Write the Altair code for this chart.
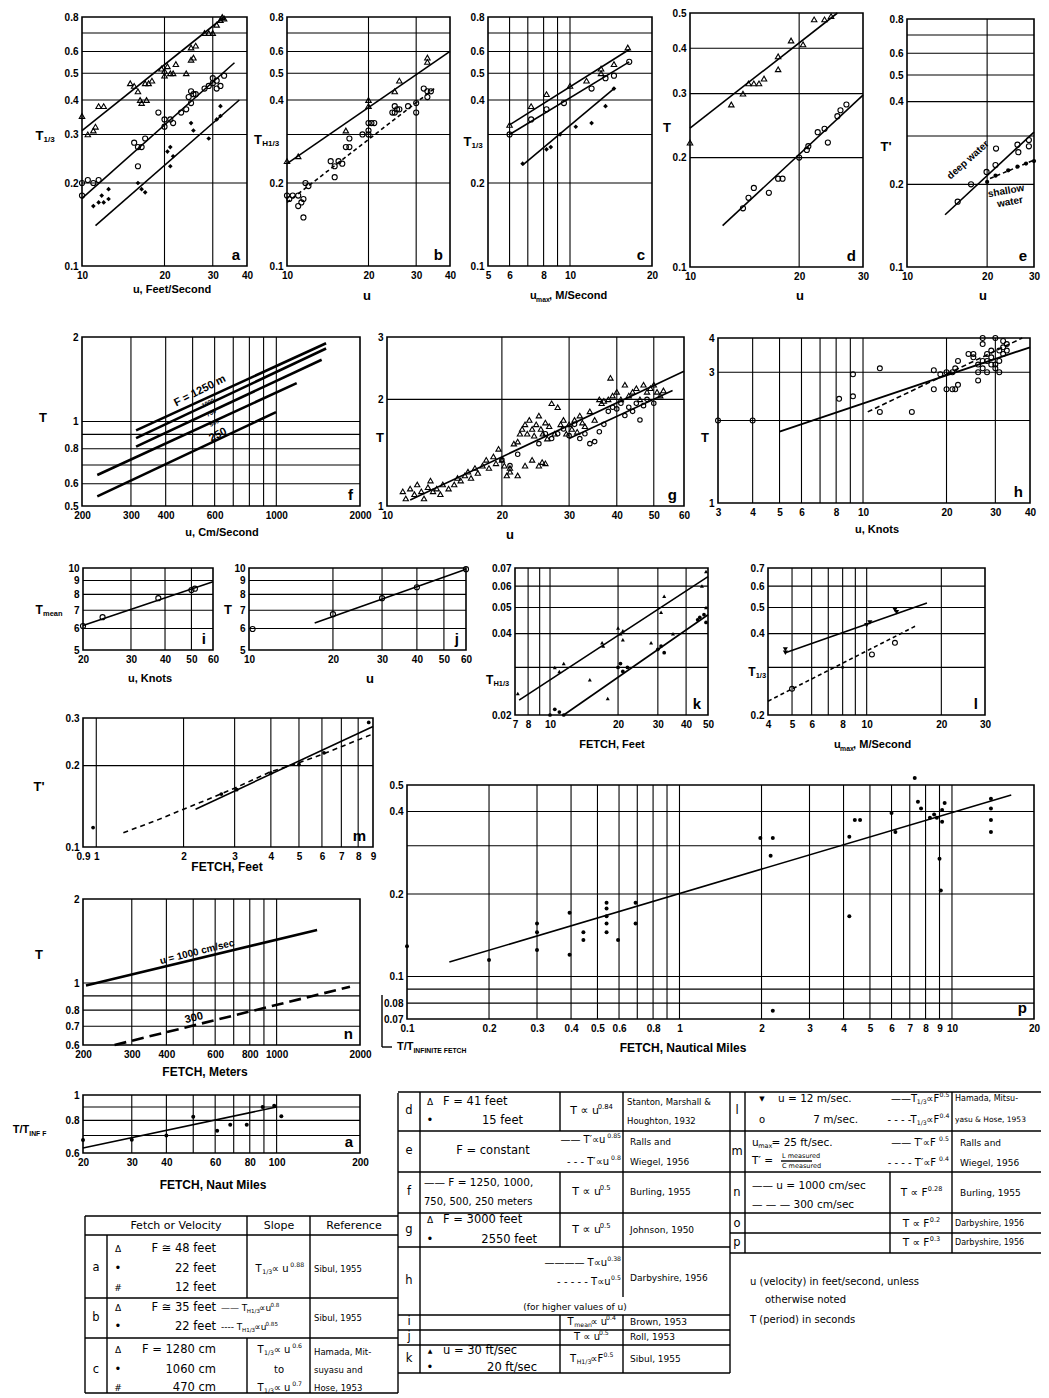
import altair as alt
import pandas as pd

# ------------------------------------------------------------------ data (u, T) pairs
A_TRI = [(10,0.35),(10.5,0.30),(11,0.31),(11.2,0.32),(11.5,0.38),(12,0.38),(15,0.46),(15.5,0.45),(16,0.43),(16.3,0.40),
         (16.5,0.39),(17,0.46),(17.5,0.46),(17.2,0.40),(18,0.47),(19.5,0.52),(20,0.51),(20,0.49),(20.5,0.53),(21,0.50),
         (21.5,0.50),(22,0.54),(24,0.50),(25,0.56),(25.5,0.57),(25,0.62),(26,0.63),(28,0.70),(29,0.70),(30,0.70),
         (31,0.75),(32,0.78),(32.5,0.80),(33,0.79)]
A_CIR = [(10,0.20),(10.5,0.205),(11,0.20),(11.5,0.205),(10,0.18),(15.5,0.28),(16,0.27),(16.5,0.27),(17,0.29),(16,0.23),
         (19,0.36),(20,0.34),(20,0.32),(21,0.34),(21.5,0.33),(23,0.36),(24,0.37),(24.5,0.41),(25,0.43),(25.5,0.42),
         (25,0.39),(26,0.42),(28,0.44),(29,0.45),(30,0.48),(31,0.47),(32,0.45),(33,0.49),(30,0.46),(31,0.44)]
A_HASH = [(11,0.165),(11.5,0.17),(12,0.17),(12.5,0.175),(11.8,0.18),(12.5,0.19),(16,0.20),(16.5,0.19),(17,0.185),
          (20.5,0.26),(21,0.27),(21.5,0.25),(21,0.23),(25,0.33),(25.5,0.31),(29,0.29),(31,0.34),(32,0.35),(32,0.38)]
A_FIT_TRI = [(10,0.31),(33,0.80)]
A_FIT_CIR = [(10,0.176),(36,0.546)]
A_FIT_HASH = [(11.2,0.14),(37.5,0.40)]

B_TRI = [(10,0.24),(11,0.25),(16.5,0.31),(20,0.40),(20,0.38),(25,0.43),(26,0.47),(33,0.55),(33,0.57)]
B_CIR = [(10,0.18),(10.2,0.175),(10.5,0.18),(11,0.18),(11.3,0.17),(11.5,0.175),(11,0.165),(11.7,0.20),(12,0.195),
         (11.5,0.15),(14.5,0.24),(15,0.23),(15.5,0.24),(16,0.235),(15,0.21),(16.5,0.27),(17,0.27),(17,0.29),(19,0.30),
         (20,0.31),(20,0.30),(20,0.33),(20.5,0.33),(21,0.33),(24.5,0.36),(25,0.38),(25,0.36),(25.5,0.37),(26,0.37),
         (28,0.38),(30,0.39),(30,0.36),(32,0.44),(33,0.43),(33,0.41),(34,0.43)]
B_FIT_SOLID = [(10,0.235),(40,0.60)]
B_FIT_DASH = [(10,0.17),(35,0.44)]

C_TRI = [(6,0.325),(7.2,0.38),(8.2,0.42),(10,0.45),(11.5,0.47),(13,0.50),(13,0.52),(14.5,0.54),(16.3,0.62)]
C_CIR = [(6,0.30),(7.2,0.34),(8.2,0.37),(9.5,0.39),(12,0.44),(13.5,0.48),(14.5,0.49),(16.5,0.55)]
C_HASH = [(6.7,0.235),(8.2,0.265),(8.5,0.27),(9.2,0.30),(10.5,0.32),(12,0.33),(13.5,0.38),(14.5,0.44)]
C_FIT_TRI = [(6,0.325),(16.5,0.61)]
C_FIT_CIR = [(6,0.30),(16.5,0.55)]
C_FIT_HASH = [(6.7,0.232),(14.5,0.44)]

D_TRI = [(10,0.22),(13,0.28),(14,0.30),(14.5,0.32),(15,0.32),(15.5,0.32),(16,0.33),(17.5,0.38),(17.5,0.35),(19,0.42),
         (20.5,0.41),(22,0.48),(23.5,0.48),(24.5,0.49)]
D_CIR = [(14,0.145),(14.5,0.155),(15,0.165),(16.5,0.16),(17.5,0.175),(18,0.175),(20,0.20),(21,0.21),(21.2,0.215),
         (22.5,0.235),(23.5,0.24),(24,0.22),(25.5,0.26),(26,0.27),(27,0.28)]
D_FIT_TRI = [(10,0.241),(25.5,0.50)]
D_FIT_CIR = [(12.3,0.13),(30,0.297)]

E_OPEN = [(15.5,0.173),(17.4,0.20),(19.9,0.222),(21.5,0.235),(21.6,0.27),(26,0.279),(26.2,0.262),(28.7,0.29),(28.7,0.275)]
E_FILLED = [(20,0.204),(21.5,0.215),(24,0.225),(26,0.232),(28,0.238),(30,0.243)]
E_FIT_DEEP = [(13.9,0.155),(30,0.31)]
E_FIT_SHALLOW = [(20.5,0.21),(30,0.245)]

F_1250 = [(313,0.93),(1510,1.90)]
F_1000 = [(313,0.872),(1510,1.82)]
F_750 = [(313,0.814),(1456,1.66)]
F_500 = [(227,0.645),(1184,1.37)]
F_250 = [(227,0.541),(998,1.08)]

G_TRI = [(11,1.10),(11.2,1.05),(11.5,1.12),(11.8,1.08),(12,1.15),(12.3,1.10),(12.5,1.05),(12.8,1.13),(13,1.18),(13.2,1.10),
         (13.5,1.12),(13.8,1.08),(14,1.15),(14.5,1.12),(15,1.15),(15.3,1.20),(15.6,1.18),(16,1.22),(16.3,1.25),(16.6,1.20),
         (17,1.28),(17.3,1.24),(17.8,1.30),(18.2,1.35),(18.5,1.28),(19,1.38),(19.3,1.32),(19.6,1.45),(20,1.35),(20.3,1.30),
         (20.6,1.22),(21,1.28),(21.5,1.50),(22,1.52),(22.3,1.60),(22.6,1.65),(23,1.70),(23.3,1.60),(23.6,1.75),(24,1.65),
         (24.3,1.58),(24.6,1.70),(25,1.80),(25.3,1.65),(25.6,1.60),(26,1.72),(26.3,1.55),(26.6,1.68),(27,1.95),(27.5,1.60),
         (28,1.90),(28.5,1.70),(29,1.75),(29.5,1.60),(30,1.70),(30.5,1.65),(31,1.75),(31.5,1.62),(32,1.80),(32.5,1.72),
         (33,1.68),(34,1.85),(35,1.75),(36,2.00),(36.5,1.95),(37,1.98),(38,2.00),(38.5,2.30),(39,2.05),(40,2.10),
         (41,2.00),(42,2.20),(43,2.05),(44,2.10),(45,2.15),(46,2.00),(47,2.20),(48,2.10),(49,2.15),(50,2.20),
         (51,2.10),(52,2.05),(53,2.12),(25,1.30),(25.5,1.33),(24,1.35),(26,1.32),(21,1.25),(22,1.22),(23,1.30)]
G_CIR = [(20,1.35),(21,1.30),(22,1.40),(25,1.50),(27,1.55),(28,1.60),(30,1.58),(32,1.55),(33,1.60),(34,1.50),(35,1.52),
         (36,1.62),(37,1.70),(38,1.85),(39,1.90),(40,1.88),(41,1.95),(42,1.80),(43,1.90),(44,1.85),(45,1.95),(46,1.75),
         (47,1.92),(48,2.00),(50,1.95),(26,1.60),(29,1.65),(31,1.70)]
G_FIT_A = [(11.5,1.04),(60,2.40)]
G_FIT_B = [(30,1.55),(56,2.12)]

H_PTS = [(3,2.0),(4,2.0),(8.2,2.4),(9.2,2.45),(9.2,2.95),(11.5,3.1),(11.5,2.15),(15,2.15),(18,3.05),(18,2.6),(19,2.95),
         (20,2.6),(20,3.0),(21,3.0),(21,2.6),(21.5,2.6),(22,2.7),(21.5,3.1),(22,3.3),(24,3.5),(25,3.5),(25,3.4),(26,3.2),
         (26,2.8),(27,4.0),(27,3.8),(27,3.1),(28,3.3),(28,3.5),(28,3.0),(29,3.4),(29,3.6),(30,4.0),(30,3.1),(31,3.3),
         (31,3.6),(32,3.9),(32,3.7),(32,3.5),(33,3.6),(33,3.8),(30,3.2),(31,3.0),(29,3.2),(26,3.0),(27,3.3)]
H_FIT_SOLID = [(5,1.82),(40,3.70)]
H_FIT_DASH = [(10.4,2.15),(37.5,4.0)]

I_PTS = [(20,6.12),(23.6,6.6),(37.8,7.75),(50,8.3),(51.5,8.4)]
I_FIT = [(20,6.15),(60,8.9)]
J_PTS = [(10.3,5.97),(20,6.77),(30,7.75),(40,8.5),(60,9.9)]
J_FIT = [(17.2,6.28),(60,9.9)]

K_TRI = [(7.2,0.024),(10.5,0.030),(11,0.029),(11.5,0.031),(15,0.027),(17,0.037),(17.2,0.036),(18,0.023),(20,0.042),
         (20.5,0.040),(21,0.041),(21,0.038),(28,0.037),(31,0.048),(32,0.055),(35,0.040),(47,0.060),(49,0.068),(49,0.050)]
K_CIR = [(10,0.020),(10.5,0.021),(11,0.0205),(11.5,0.020),(20,0.030),(20.5,0.031),(21,0.029),(22,0.030),(30,0.035),
         (31,0.036),(32,0.034),(45,0.045),(46,0.046),(48,0.047),(49,0.044)]
K_FIT_TRI = [(7.3,0.0227),(50,0.065)]
K_FIT_CIR = [(11.5,0.020),(50,0.047)]

L_TRI = [(4.7,0.35),(4.7,0.34),(10,0.43),(10.3,0.44),(13,0.49),(13.2,0.48)]
L_CIR = [(5,0.25),(10.5,0.335),(13,0.37)]
L_DOT = [(8,0.30)]
L_FIT_SOLID = [(4.7,0.34),(17.5,0.52)]
L_FIT_DASH = [(4,0.225),(16,0.43)]

M_PTS = [(0.975,0.118),(2.7,0.157),(3.05,0.163),(4.0,0.188),(5.0,0.202),(6.1,0.223),(8.7,0.289)]
M_FIT_SOLID = [(2.2,0.138),(9,0.279)]
M_FIT_DASH = [(1.24,0.113),(1.6,0.125),(2.0,0.138),(2.5,0.152),(3.0,0.165),(4.0,0.19),(5.0,0.205),(6.0,0.22),(7.0,0.235),(9.0,0.262)]

N_FIT_1000 = [(205,0.98),(1400,1.55)]
N_FIT_300 = [(260,0.60),(1840,0.97)]

P_PTS = [(0.1,0.129),(0.2,0.115),(0.3,0.156),(0.3,0.145),(0.3,0.125),(0.395,0.171),(0.395,0.12),(0.444,0.145),(0.444,0.136),
         (0.54,0.186),(0.54,0.177),(0.54,0.166),(0.54,0.156),(0.54,0.145),(0.595,0.136),(0.69,0.186),(0.69,0.156),
         (1.98,0.32),(2.16,0.276),(2.2,0.32),(2.2,0.075),(4.2,0.324),(4.2,0.166),(4.4,0.373),(4.6,0.373),(6.0,0.395),
         (6.2,0.337),(7.3,0.53),(7.5,0.434),(7.7,0.41),(8.3,0.38),(8.6,0.39),(8.8,0.38),(9.0,0.269),(9.1,0.206),
         (9.2,0.405),(9.2,0.367),(9.4,0.43),(13.9,0.445),(13.9,0.41),(13.9,0.373),(13.9,0.337)]
P_FIT = [(0.143,0.113),(16.5,0.46)]

Q_PTS = [(20,0.673),(30,0.675),(40,0.70),(50,0.826),(61,0.73),(68,0.77),(78,0.77),(89,0.90),(98,0.91),(104,0.83)]
Q_FIT = [(20,0.627),(100,0.90)]

# ------------------------------------------------------------------ layout (page pixels)
W, H, M = 1033, 1390, 8
LF = "Liberation Sans"
TF = "DejaVu Sans"

PANELS = {
    'a': dict(x=(10, 40), xp=(82, 247), y=(0.1, 0.8), yp=(266, 17), xt=[10, 20, 30, 40],
              yt=[0.1, 0.2, 0.3, 0.4, 0.5, 0.6, 0.8], xg=[20, 30], yg=[0.2, 0.3, 0.4, 0.5, 0.6, 0.7], letter='a'),
    'b': dict(x=(10, 40), xp=(287, 450), y=(0.1, 0.8), yp=(266, 17), xt=[10, 20, 30, 40],
              yt=[0.1, 0.2, 0.4, 0.5, 0.6, 0.8], xg=[20, 30], yg=[0.2, 0.3, 0.4, 0.5, 0.6, 0.7], letter='b'),
    'c': dict(x=(5, 20), xp=(488, 652), y=(0.1, 0.8), yp=(266, 17), xt=[5, 6, 8, 10, 20],
              yt=[0.1, 0.2, 0.4, 0.5, 0.6, 0.8], xg=[6, 7, 8, 9, 10], yg=[0.2, 0.3, 0.4, 0.5, 0.6, 0.7], letter='c'),
    'd': dict(x=(10, 30), xp=(690, 863), y=(0.1, 0.5), yp=(267, 13), xt=[10, 20, 30],
              yt=[0.1, 0.2, 0.3, 0.4, 0.5], xg=[20], yg=[0.2, 0.3, 0.4], letter='d'),
    'e': dict(x=(10, 30), xp=(907, 1034), y=(0.1, 0.8), yp=(267, 19), xt=[10, 20, 30],
              yt=[0.1, 0.2, 0.4, 0.5, 0.6, 0.8], xg=[20], yg=[0.2, 0.3, 0.4, 0.5, 0.6, 0.7], letter='e'),
    'f': dict(x=(200, 2000), xp=(82, 360), y=(0.5, 2), yp=(506, 337), xt=[200, 300, 400, 600, 1000, 2000],
              yt=[0.5, 0.6, 0.8, 1, 2], xg=[300, 400, 500, 600, 700, 800, 900, 1000], yg=[0.6, 0.7, 0.8, 0.9, 1], letter='f'),
    'g': dict(x=(10, 60), xp=(387, 684), y=(1, 3), yp=(506, 337), xt=[10, 20, 30, 40, 50, 60],
              yt=[1, 2, 3], xg=[20, 30, 40, 50], yg=[2], letter='g'),
    'h': dict(x=(3, 40), xp=(718, 1030), y=(1, 4), yp=(503, 338), xt=[3, 4, 5, 6, 8, 10, 20, 30, 40],
              yt=[1, 3, 4], xg=[4, 5, 6, 7, 8, 9, 10, 20, 30], yg=[2, 3], letter='h'),
    'i': dict(x=(20, 60), xp=(83, 213), y=(5, 10), yp=(650, 568), xt=[20, 30, 40, 50, 60],
              yt=[5, 6, 7, 8, 9, 10], xg=[30, 40, 50], yg=[6, 7, 8, 9], letter='i'),
    'j': dict(x=(10, 60), xp=(249, 466), y=(5, 10), yp=(650, 568), xt=[10, 20, 30, 40, 50, 60],
              yt=[5, 6, 7, 8, 9, 10], xg=[20, 30, 40, 50], yg=[6, 7, 8, 9], letter='j'),
    'k': dict(x=(7, 50), xp=(515, 708), y=(0.02, 0.07), yp=(715, 568), xt=[7, 8, 10, 20, 30, 40, 50],
              yt=[0.02, 0.04, 0.05, 0.06, 0.07], xg=[8, 9, 10, 20, 30, 40], yg=[0.03, 0.04, 0.05, 0.06], letter='k'),
    'l': dict(x=(4, 30), xp=(768, 985), y=(0.2, 0.7), yp=(715, 568), xt=[4, 5, 6, 8, 10, 20, 30],
              yt=[0.2, 0.4, 0.5, 0.6, 0.7], xg=[5, 6, 7, 8, 9, 10, 20], yg=[0.3, 0.4, 0.5, 0.6], letter='l'),
    'm': dict(x=(0.9, 9), xp=(83, 373), y=(0.1, 0.3), yp=(847, 718), xt=[0.9, 1, 2, 3, 4, 5, 6, 7, 8, 9],
              yt=[0.1, 0.2, 0.3], xg=[1, 2, 3, 4, 5, 6, 7, 8], yg=[0.2], letter='m'),
    'n': dict(x=(200, 2000), xp=(83, 360), y=(0.6, 2), yp=(1045, 899), xt=[200, 300, 400, 600, 800, 1000, 2000],
              yt=[0.6, 0.7, 0.8, 1, 2], xg=[300, 400, 500, 600, 700, 800, 900, 1000], yg=[0.7, 0.8, 0.9, 1], letter='n'),
    'p': dict(x=(0.1, 20), xp=(407, 1034), y=(0.07, 0.5), yp=(1019, 785),
              xt=[0.1, 0.2, 0.3, 0.4, 0.5, 0.6, 0.8, 1, 2, 3, 4, 5, 6, 7, 8, 9, 10, 20],
              yt=[0.07, 0.08, 0.1, 0.2, 0.4, 0.5],
              xg=[0.2, 0.3, 0.4, 0.5, 0.6, 0.7, 0.8, 0.9, 1, 2, 3, 4, 5, 6, 7, 8, 9, 10],
              yg=[0.08, 0.09, 0.1, 0.2, 0.3, 0.4], letter='p'),
    'q': dict(x=(20, 200), xp=(83, 360), y=(0.6, 1), yp=(1153, 1095), xt=[20, 30, 40, 60, 80, 100, 200],
              yt=[0.6, 0.8, 1], xg=[30, 40, 50, 60, 70, 80, 90, 100], yg=[0.7, 0.8, 0.9], letter='a'),
}


def px(v):
    return v - M


def scales(p):
    xs = alt.Scale(type='log', domain=list(p['x']), range=[px(p['xp'][0]), px(p['xp'][1])], nice=False)
    ys = alt.Scale(type='log', domain=list(p['y']), range=[px(p['yp'][0]), px(p['yp'][1])], nice=False)
    return xs, ys


LAYERS = []


def panel(key):
    p = PANELS[key]
    xs, ys = scales(p)
    x0, x1 = p['x']
    y0, y1 = p['y']
    if p['xg']:
        d = pd.DataFrame({'gx': p['xg'], 'y0': y0, 'y1': y1})
        LAYERS.append(alt.Chart(d).mark_rule(color='black', strokeWidth=1.1).encode(
            x=alt.X('gx:Q', scale=xs, axis=None), y=alt.Y('y0:Q', scale=ys, axis=None), y2='y1:Q'))
    if p['yg']:
        d = pd.DataFrame({'gy': p['yg'], 'x0': x0, 'x1': x1})
        LAYERS.append(alt.Chart(d).mark_rule(color='black', strokeWidth=1.1).encode(
            y=alt.Y('gy:Q', scale=ys, axis=None), x=alt.X('x0:Q', scale=xs, axis=None), x2='x1:Q'))
    common = dict(format='.4~g', grid=False, domain=False, ticks=False, title=None, labelFont=LF,
                  labelFontSize=10, labelFontWeight='bold', labelColor='black', labelOverlap=False,
                  labelBound=False, labelFlush=False)
    xaxis = alt.Axis(values=p['xt'], orient='bottom', offset=px(p['yp'][0]) - H, labelPadding=4, **common)
    yaxis = alt.Axis(values=p['yt'], orient='left', offset=-px(p['xp'][0]), labelPadding=4, **common)
    fd = pd.DataFrame({'x0': [x0], 'x1': [x1], 'y0': [y0], 'y1': [y1]})
    LAYERS.append(alt.Chart(fd).mark_rect(color='black', fillOpacity=0, stroke='black', strokeWidth=1.6).encode(
        x=alt.X('x0:Q', scale=xs, axis=xaxis), x2='x1:Q', y=alt.Y('y0:Q', scale=ys, axis=yaxis), y2='y1:Q'))
    ld = pd.DataFrame({'x': [x1], 'y': [y0], 't': [p['letter']]})
    LAYERS.append(alt.Chart(ld).mark_text(align='right', baseline='bottom', dx=-7, dy=-3, font=LF,
                                          fontSize=15, fontWeight='bold', color='black').encode(
        x=alt.X('x:Q', scale=xs, axis=None), y=alt.Y('y:Q', scale=ys, axis=None), text='t:N'))


def pts(key, data, shape, filled, size=26, sw=1.1):
    xs, ys = scales(PANELS[key])
    d = pd.DataFrame(data, columns=['u', 'T'])
    LAYERS.append(alt.Chart(d).mark_point(shape=shape, filled=filled, size=size, color='black',
                                          strokeWidth=sw, opacity=1).encode(
        x=alt.X('u:Q', scale=xs, axis=None), y=alt.Y('T:Q', scale=ys, axis=None)))


def fit(key, data, dash=None, sw=1.6):
    xs, ys = scales(PANELS[key])
    d = pd.DataFrame(data, columns=['u', 'T'])
    kw = dict(color='black', strokeWidth=sw)
    if dash:
        kw['strokeDash'] = dash
    LAYERS.append(alt.Chart(d).mark_line(**kw).encode(
        x=alt.X('u:Q', scale=xs, axis=None), y=alt.Y('T:Q', scale=ys, axis=None)))


for k in PANELS:
    panel(k)

pts('a', A_TRI, 'triangle-up', False, 30); pts('a', A_CIR, 'circle', False); pts('a', A_HASH, 'diamond', True, 22)
fit('a', A_FIT_TRI); fit('a', A_FIT_CIR); fit('a', A_FIT_HASH)
pts('b', B_TRI, 'triangle-up', False, 30); pts('b', B_CIR, 'circle', False)
fit('b', B_FIT_SOLID); fit('b', B_FIT_DASH, [4, 3])
pts('c', C_TRI, 'triangle-up', False, 30); pts('c', C_CIR, 'circle', False); pts('c', C_HASH, 'diamond', True, 22)
fit('c', C_FIT_TRI); fit('c', C_FIT_CIR); fit('c', C_FIT_HASH)
pts('d', D_TRI, 'triangle-up', False, 30); pts('d', D_CIR, 'circle', False)
fit('d', D_FIT_TRI); fit('d', D_FIT_CIR)
pts('e', E_OPEN, 'circle', False); pts('e', E_FILLED, 'circle', True, 18)
fit('e', E_FIT_DEEP); fit('e', E_FIT_SHALLOW, [4, 3])
for ln in (F_1250, F_1000, F_750, F_500, F_250):
    fit('f', ln, sw=2.6)
pts('g', G_TRI, 'triangle-up', False, 28); pts('g', G_CIR, 'circle', False, 20)
fit('g', G_FIT_A); fit('g', G_FIT_B)
pts('h', H_PTS, 'circle', False, 24)
fit('h', H_FIT_SOLID, sw=1.8); fit('h', H_FIT_DASH, [5, 3])
pts('i', I_PTS, 'circle', False, 26); fit('i', I_FIT)
pts('j', J_PTS, 'circle', False, 26); fit('j', J_FIT)
pts('k', K_TRI, 'triangle-up', True, 16); pts('k', K_CIR, 'circle', True, 14)
fit('k', K_FIT_TRI); fit('k', K_FIT_CIR)
pts('l', L_TRI, 'triangle-down', True, 26); pts('l', L_CIR, 'circle', False, 24); pts('l', L_DOT, 'circle', True, 8)
fit('l', L_FIT_SOLID); fit('l', L_FIT_DASH, [4, 3])
pts('m', M_PTS, 'circle', True, 14)
fit('m', M_FIT_SOLID); fit('m', M_FIT_DASH, [5, 4])
fit('n', N_FIT_1000, sw=2.6); fit('n', N_FIT_300, [12, 6], sw=2.6)
pts('p', P_PTS, 'circle', True, 16); fit('p', P_FIT)
pts('q', Q_PTS, 'circle', True, 16); fit('q', Q_FIT)

# ------------------------------------------------------------------ text annotations & tables (page pixels)
ANN = []


def cw(ch, font):
    if ch == ' ':
        w = 0.3
    elif ch in "il.,:;'|!()/′":
        w = 0.3
    elif ch.isdigit():
        w = 0.6
    elif ch in "mwMW":
        w = 0.88
    elif ch == "—":
        w = 0.95
    elif ch in "=≅":
        w = 0.8
    elif ch == "∝":
        w = 0.66
    elif ch == "-":
        w = 0.34
    elif ch.isupper():
        w = 0.64
    else:
        w = 0.56
    return w * (0.93 if font == LF else 1.0)


def rich(x, y, segs, size=10, align='left', weight='normal', font=TF, angle=0):
    if isinstance(segs, str):
        segs = [(segs, 'n')]
    if len(segs) == 1 and segs[0][1] == 'n':
        ANN.append(dict(x=x, y=y, text=segs[0][0], size=size, weight=weight, font=font, align=align, angle=angle))
        return
    sizes = [size if m == 'n' else size * 0.62 for t, m in segs]
    widths = [sum(cw(c, font) for c in t) * s for (t, m), s in zip(segs, sizes)]
    total = sum(widths)
    start = x if align == 'left' else (x - total / 2 if align == 'center' else x - total)
    for (t, m), s, w in zip(segs, sizes, widths):
        dy = 0 if m == 'n' else (0.32 * size if m == 'sub' else -0.38 * size)
        ANN.append(dict(x=start, y=y + dy, text=t, size=s, weight=weight, font=font, align='left', angle=angle))
        start += w + 0.3


B = 'bold'
T13 = [('T', 'n'), ('1/3', 'sub')]
TH13 = [('T', 'n'), ('H1/3', 'sub')]
# axis titles
rich(45, 136, T13, 13, 'center', B, LF); rich(172, 290, 'u, Feet/Second', 11, 'center', B, LF)
rich(266, 140, TH13, 13, 'center', B, LF); rich(367, 296, 'u', 13, 'center', B, LF)
rich(473, 142, T13, 13, 'center', B, LF); rich(566, 296, [('u', 'n'), ('max', 'sub'), (', M/Second', 'n')], 11, 'center', B, LF)
rich(667, 128, 'T', 13, 'center', B, LF); rich(800, 296, 'u', 13, 'center', B, LF)
rich(886, 147, "T'", 13, 'center', B, LF); rich(983, 296, 'u', 13, 'center', B, LF)
rich(43, 418, 'T', 13, 'center', B, LF); rich(222, 533, 'u, Cm/Second', 11, 'center', B, LF)
rich(380, 438, 'T', 13, 'center', B, LF); rich(510, 535, 'u', 13, 'center', B, LF)
rich(705, 438, 'T', 13, 'center', B, LF); rich(877, 530, 'u, Knots', 11, 'center', B, LF)
rich(48, 610, [('T', 'n'), ('mean', 'sub')], 12, 'center', B, LF); rich(150, 679, 'u, Knots', 11, 'center', B, LF)
rich(228, 610, 'T', 13, 'center', B, LF); rich(370, 679, 'u', 13, 'center', B, LF)
rich(497, 680, TH13, 12, 'center', B, LF); rich(612, 745, 'FETCH, Feet', 11, 'center', B, LF)
rich(757, 672, T13, 12, 'center', B, LF); rich(870, 745, [('u', 'n'), ('max', 'sub'), (', M/Second', 'n')], 11, 'center', B, LF)
rich(39, 787, "T'", 13, 'center', B, LF); rich(227, 867, 'FETCH, Feet', 12, 'center', B, LF)
rich(39, 955, 'T', 13, 'center', B, LF); rich(205, 1072, 'FETCH, Meters', 12, 'center', B, LF)
rich(683, 1048, 'FETCH, Nautical Miles', 12, 'center', B, LF)
rich(397, 1047, [('T/T', 'n'), ('INFINITE FETCH', 'sub')], 11, 'left', B, LF)
rich(30, 1130, [('T/T', 'n'), ('INF F', 'sub')], 11, 'center', B, LF); rich(213, 1185, 'FETCH, Naut Miles', 12, 'center', B, LF)
# in-plot labels
rich(200, 391, 'F = 1250 m', 11, 'center', B, LF, 333)
rich(208, 403, '1000', 6, 'center', B, LF, 333)
rich(211, 413, '750', 6, 'center', B, LF, 333)
rich(214, 423, '500', 6, 'center', B, LF, 333)
rich(218, 435, '250', 11, 'center', B, LF, 333)
rich(968, 160, 'deep water', 10, 'center', B, LF, 318)
rich(1006, 191, 'shallow', 10, 'center', B, LF, 350)
rich(1010, 202, 'water', 10, 'center', B, LF, 350)
rich(197, 952, 'u = 1000 cm/sec', 10, 'center', B, LF, 346)
rich(194, 1018, '300', 11, 'center', B, LF, 346)

# tables
S = 11.5
SUPS = 'sup'
# left table
rich(176, 1226, 'Fetch or Velocity', 11, 'center'); rich(279, 1226, 'Slope', 11, 'center')
rich(354, 1226, 'Reference', 11, 'center')
rich(96, 1268, 'a', S, 'center')
rich(118, 1249, 'Δ', 9, 'center'); rich(216, 1249, 'F ≅ 48 feet', S, 'right')
rich(118, 1269, '•', S, 'center'); rich(216, 1269, '22 feet', S, 'right')
rich(118, 1288, '#', 9, 'center'); rich(216, 1288, '12 feet', S, 'right')
rich(279, 1269, [('T', 'n'), ('1/3', 'sub'), (' ∝ u', 'n'), ('0.88', SUPS)], 10, 'center')
rich(314, 1269, 'Sibul, 1955', 8.5)
rich(96, 1318, 'b', S, 'center')
rich(118, 1308, 'Δ', 9, 'center'); rich(216, 1308, 'F ≅ 35 feet', S, 'right')
rich(221, 1308, [('—— T', 'n'), ('H1/3', 'sub'), ('∝u', 'n'), ('0.8', SUPS)], 9)
rich(118, 1327, '•', S, 'center'); rich(216, 1327, '22 feet', S, 'right')
rich(221, 1327, [('---- T', 'n'), ('H1/3', 'sub'), ('∝u', 'n'), ('0.85', SUPS)], 9)
rich(314, 1318, 'Sibul, 1955', 8.5)
rich(96, 1370, 'c', S, 'center')
rich(118, 1350, 'Δ', 9, 'center'); rich(216, 1350, 'F = 1280 cm', S, 'right')
rich(118, 1370, '•', S, 'center'); rich(216, 1370, '1060 cm', S, 'right')
rich(118, 1388, '#', 9, 'center'); rich(216, 1388, '470 cm', S, 'right')
rich(279, 1350, [('T', 'n'), ('1/3', 'sub'), (' ∝ u', 'n'), ('0.6', SUPS)], 10, 'center')
rich(279, 1370, 'to', 10, 'center')
rich(279, 1388, [('T', 'n'), ('1/3', 'sub'), (' ∝ u', 'n'), ('0.7', SUPS)], 10, 'center')
rich(314, 1352, 'Hamada, Mit-', 8.5); rich(314, 1370, 'suyasu and', 8.5); rich(314, 1388, 'Hose, 1953', 8.5)
# middle table
rich(409, 1111, 'd', S, 'center')
rich(430, 1102, 'Δ', 9, 'center'); rich(443, 1102, 'F = 41 feet', S)
rich(430, 1121, '•', S, 'center'); rich(523, 1121, '15 feet', S, 'right')
rich(591, 1111, [('T ∝ u', 'n'), ('0.84', SUPS)], 11, 'center')
rich(627, 1102, 'Stanton, Marshall &', 8.5); rich(627, 1121, 'Houghton, 1932', 8.5)
rich(409, 1151, 'e', S, 'center')
rich(493, 1151, 'F = constant', S, 'center')
rich(620, 1140, [('——  T′∝u', 'n'), ('0.85', SUPS)], 10, 'right')
rich(620, 1162, [('- - -  T′∝u', 'n'), ('0.8', SUPS)], 10, 'right')
rich(630, 1142, 'Ralls and', 9); rich(630, 1162, 'Wiegel, 1956', 9)
rich(409, 1192, 'f', S, 'center')
rich(424, 1183, '—— F = 1250, 1000,', 10.5); rich(424, 1202, '750, 500, 250 meters', 10)
rich(591, 1192, [('T ∝ u', 'n'), ('0.5', SUPS)], 11, 'center')
rich(630, 1192, 'Burling, 1955', 9)
rich(409, 1230, 'g', S, 'center')
rich(430, 1220, 'Δ', 9, 'center'); rich(443, 1220, 'F = 3000 feet', S)
rich(430, 1240, '•', S, 'center'); rich(537, 1240, '2550 feet', S, 'right')
rich(591, 1230, [('T ∝ u', 'n'), ('0.5', SUPS)], 11, 'center')
rich(630, 1230, 'Johnson, 1950', 9)
rich(409, 1281, 'h', S, 'center')
rich(620, 1263, [('————  T∝u', 'n'), ('0.38', SUPS)], 10, 'right')
rich(620, 1282, [('- - - - -  T∝u', 'n'), ('0.5', SUPS)], 10, 'right')
rich(630, 1278, 'Darbyshire, 1956', 9)
rich(575, 1307, '(for higher values of u)', 9, 'center')
rich(409, 1322, 'i', S, 'center')
rich(591, 1322, [('T', 'n'), ('mean', 'sub'), ('∝ u', 'n'), ('0.4', SUPS)], 10, 'center')
rich(630, 1322, 'Brown, 1953', 9)
rich(409, 1337, 'j', S, 'center')
rich(591, 1337, [('T ∝ u', 'n'), ('0.5', SUPS)], 10, 'center')
rich(630, 1337, 'Roll, 1953', 9)
rich(409, 1359, 'k', S, 'center')
rich(430, 1351, '▲', 6, 'center'); rich(443, 1351, 'u = 30 ft/sec', S)
rich(430, 1368, '•', S, 'center'); rich(537, 1368, '20 ft/sec', S, 'right')
rich(591, 1359, [('T', 'n'), ('H1/3', 'sub'), ('∝F', 'n'), ('0.5', SUPS)], 10, 'center')
rich(630, 1359, 'Sibul, 1955', 9)
# right table
rich(737, 1111, 'l', S, 'center'); rich(737, 1152, 'm', S, 'center'); rich(737, 1193, 'n', S, 'center')
rich(737, 1224, 'o', S, 'center'); rich(737, 1243, 'p', S, 'center')
rich(762, 1099, '▼', 7, 'center'); rich(778, 1099, 'u = 12 m/sec.', 10.5)
rich(762, 1120, 'o', 10, 'center'); rich(858, 1120, '7 m/sec.', 10.5, 'right')
rich(948, 1099, [('——T', 'n'), ('1/3', 'sub'), ('∝F', 'n'), ('0.5', SUPS)], 10, 'right')
rich(948, 1120, [('- - - -T', 'n'), ('1/3', 'sub'), ('∝F', 'n'), ('0.4', SUPS)], 10, 'right')
rich(955, 1099, 'Hamada, Mitsu-', 8); rich(955, 1120, 'yasu & Hose, 1953', 7.5)
rich(752, 1143, [('u', 'n'), ('max', 'sub'), (' = 25 ft/sec.', 'n')], 10.5)
rich(752, 1161, "T′ =", 10.5)
rich(782, 1156, 'L measured', 6.5); rich(782, 1166, 'C measured', 6.5)
rich(948, 1143, [('——  T′∝F', 'n'), ('0.5', SUPS)], 10, 'right')
rich(948, 1163, [('- - - -  T′∝F', 'n'), ('0.4', SUPS)], 10, 'right')
rich(960, 1143, 'Ralls and', 9); rich(960, 1163, 'Wiegel, 1956', 9)
rich(752, 1186, '—— u = 1000 cm/sec', 10.5); rich(752, 1205, '— — —  300 cm/sec', 10.5)
rich(921, 1193, [('T ∝ F', 'n'), ('0.28', SUPS)], 10.5, 'center')
rich(960, 1193, 'Burling, 1955', 9)
rich(921, 1224, [('T ∝ F', 'n'), ('0.2', SUPS)], 10.5, 'center'); rich(955, 1224, 'Darbyshire, 1956', 8)
rich(921, 1243, [('T ∝ F', 'n'), ('0.3', SUPS)], 10.5, 'center'); rich(955, 1243, 'Darbyshire, 1956', 8)
rich(750, 1282, 'u (velocity) in feet/second, unless', 10); rich(765, 1300, 'otherwise noted', 10)
rich(750, 1320, 'T (period) in seconds', 10)

RULES = [
    # left table
    (85, 1216, 398, 1216), (85, 1235, 398, 1235), (85, 1298, 398, 1298), (85, 1338, 398, 1338), (85, 1393, 398, 1393),
    (85, 1216, 85, 1393), (107, 1235, 107, 1393), (247, 1216, 247, 1298), (247, 1338, 247, 1393),
    (310, 1216, 310, 1393), (398, 1093, 398, 1393),
    # middle + right tables
    (398, 1092, 1042, 1092), (398, 1131, 1042, 1131), (398, 1172, 1042, 1172), (398, 1213, 1042, 1213),
    (730, 1233, 1042, 1233), (730, 1253, 1042, 1253), (398, 1247, 730, 1247), (398, 1315, 730, 1315),
    (398, 1330, 730, 1330), (398, 1345, 730, 1345), (398, 1373, 730, 1373),
    (420, 1092, 420, 1373), (560, 1092, 560, 1131), (560, 1172, 560, 1247), (560, 1315, 560, 1373),
    (623, 1092, 623, 1297), (623, 1315, 623, 1373), (730, 1092, 730, 1373),
    (745, 1092, 745, 1253), (890, 1172, 890, 1253), (952, 1092, 952, 1253), (1042, 1092, 1042, 1253),
    (781, 1161, 812, 1161),
    # arrow under panel p
    (382, 995, 382, 1047), (382, 1047, 392, 1047),
]

XI = alt.Scale(domain=[M, W + M], range=[0, W])
YI = alt.Scale(domain=[M, H + M], range=[0, H])
rd = pd.DataFrame(RULES, columns=['x', 'y', 'x2', 'y2'])
LAYERS.append(alt.Chart(rd).mark_rule(color='black', strokeWidth=1.4).encode(
    x=alt.X('x:Q', scale=XI, axis=None), y=alt.Y('y:Q', scale=YI, axis=None), x2='x2:Q', y2='y2:Q'))

ad = pd.DataFrame(ANN)
for (al, wt, fn), g in ad.groupby(['align', 'weight', 'font']):
    LAYERS.append(alt.Chart(g.reset_index(drop=True)).mark_text(
        align=al, baseline='middle', fontWeight=wt, font=fn, color='black').encode(
        x=alt.X('x:Q', scale=XI, axis=None), y=alt.Y('y:Q', scale=YI, axis=None), text='text:N',
        size=alt.Size('size:Q', scale=None), angle=alt.Angle('angle:Q', scale=None)))

chart = alt.layer(*LAYERS).resolve_scale(x='independent', y='independent').properties(
    width=W, height=H, padding=0, autosize=alt.AutoSizeParams(type='none')
).configure_view(stroke=None)

chart.save("out.html", embed_options={"renderer": "svg", "actions": False})
